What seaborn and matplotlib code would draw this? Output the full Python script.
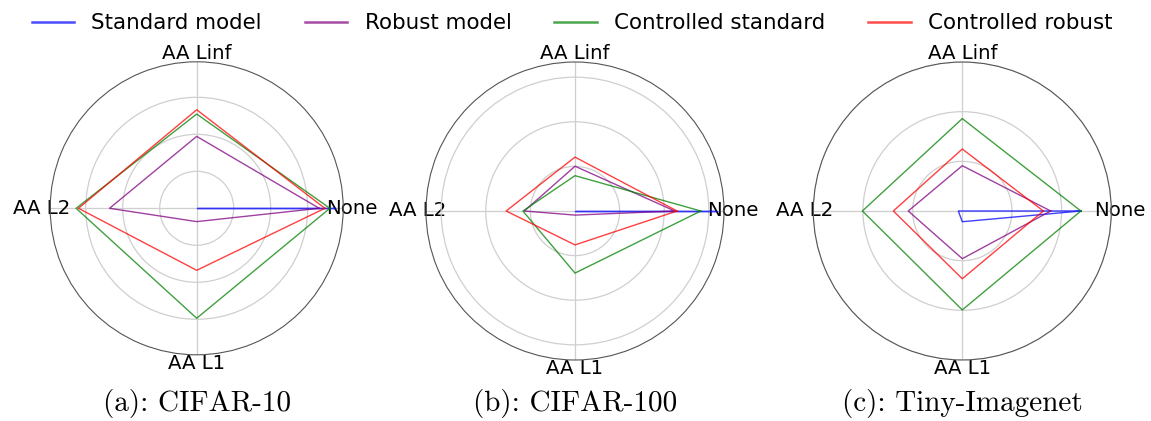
import numpy as np
import pandas as pd
import matplotlib
matplotlib.use("Agg")
import matplotlib.pyplot as plt
import seaborn as sns

categories = ["None", "AA Linf", "AA L2", "AA L1"]
models = ["Standard model", "Robust model", "Controlled standard", "Controlled robust"]
colors = ["blue", "purple", "green", "red"]

cifar10_standard = [93.4, 0.0, 0.0, 0.0]
cifar10_robust = [82.8, 48.6, 58.9, 9.0]
cifar10_ctrl_standard = [90.0, 63.7, 81.5, 74.3]
cifar10_ctrl_robust = [86.6, 66.6, 79.9, 41.9]

cifar100_standard = [79.2, 0.0, 0.0, 0.0]
cifar100_robust = [55.9, 25.1, 28.4, 2.3]
cifar100_ctrl_standard = [70.5, 19.8, 29.2, 34.8]
cifar100_ctrl_robust = [57.2, 30.2, 38.6, 19.0]

tiny_standard = [59.7, 0.0, 2.0, 5.4]
tiny_robust = [44.5, 22.8, 27.2, 24.0]
tiny_ctrl_standard = [59.7, 46.5, 50.3, 49.8]
tiny_ctrl_robust = [40.8, 31.2, 34.7, 34.1]

captions = ["(a): CIFAR-10", "(b): CIFAR-100", "(c): Tiny-Imagenet"]
r_ticks = [25, 50, 75]
r_max = [99.0, 83.5, 75.0]

datasets = [
    [cifar10_standard, cifar10_robust, cifar10_ctrl_standard, cifar10_ctrl_robust],
    [cifar100_standard, cifar100_robust, cifar100_ctrl_standard, cifar100_ctrl_robust],
    [tiny_standard, tiny_robust, tiny_ctrl_standard, tiny_ctrl_robust],
]

W, H = 1151, 421
fig = plt.figure(figsize=(W / 100, H / 100), dpi=100)

# (center x, center y from top, radius) in pixels
geom = [(196.7, 208.3, 146.5), (575.0, 211.0, 149.0), (962.3, 211.0, 149.0)]

angles = np.linspace(0, 2 * np.pi, len(categories), endpoint=False)
palette = dict(zip(models, colors))

for i, (vals, (cx, cy, r)) in enumerate(zip(datasets, geom)):
    ax = fig.add_axes([(cx - r) / W, (H - cy - r) / H, 2 * r / W, 2 * r / H],
                      projection="polar")
    rows = []
    for m, v in zip(models, vals):
        for k in range(len(categories) + 1):
            rows.append({"model": m, "theta": angles[k % len(categories)] + (2 * np.pi if k == len(categories) else 0),
                         "r": v[k % len(categories)], "order": k})
    df = pd.DataFrame(rows)
    sns.lineplot(data=df, x="theta", y="r", hue="model", palette=palette,
                 sort=False, estimator=None, units="model", ax=ax, linewidth=1.0,
                 alpha=0.75, legend=(i == 0))
    ax.set_xticks(angles)
    ax.set_xticklabels(categories, fontsize=14.2)
    ax.set_yticks(r_ticks)
    ax.set_yticklabels([])
    ax.set_ylim(0, r_max[i])
    ax.set_xlabel("")
    ax.set_ylabel("")
    ax.grid(True, color="#cfcfcf", linewidth=0.9)
    ax.spines["polar"].set_color("#555555")
    ax.spines["polar"].set_linewidth(0.8)
    ax.tick_params(axis="x", pad=-4.5)
    if i == 0:
        handles, labels = ax.get_legend_handles_labels()
        ax.get_legend().remove()
    fig.text(cx / W, 1 - 404 / H, captions[i], ha="center", va="center",
             fontsize=21, family="cmr10")

leg = fig.legend(handles, labels, loc="center", bbox_to_anchor=(0.497, 1 - 23 / H),
                 ncol=4, frameon=False, fontsize=15.4)
for lh in leg.get_lines():
    lh.set_linewidth(1.8)
    lh.set_alpha(0.7)

fig.savefig("out.png", dpi=100)
